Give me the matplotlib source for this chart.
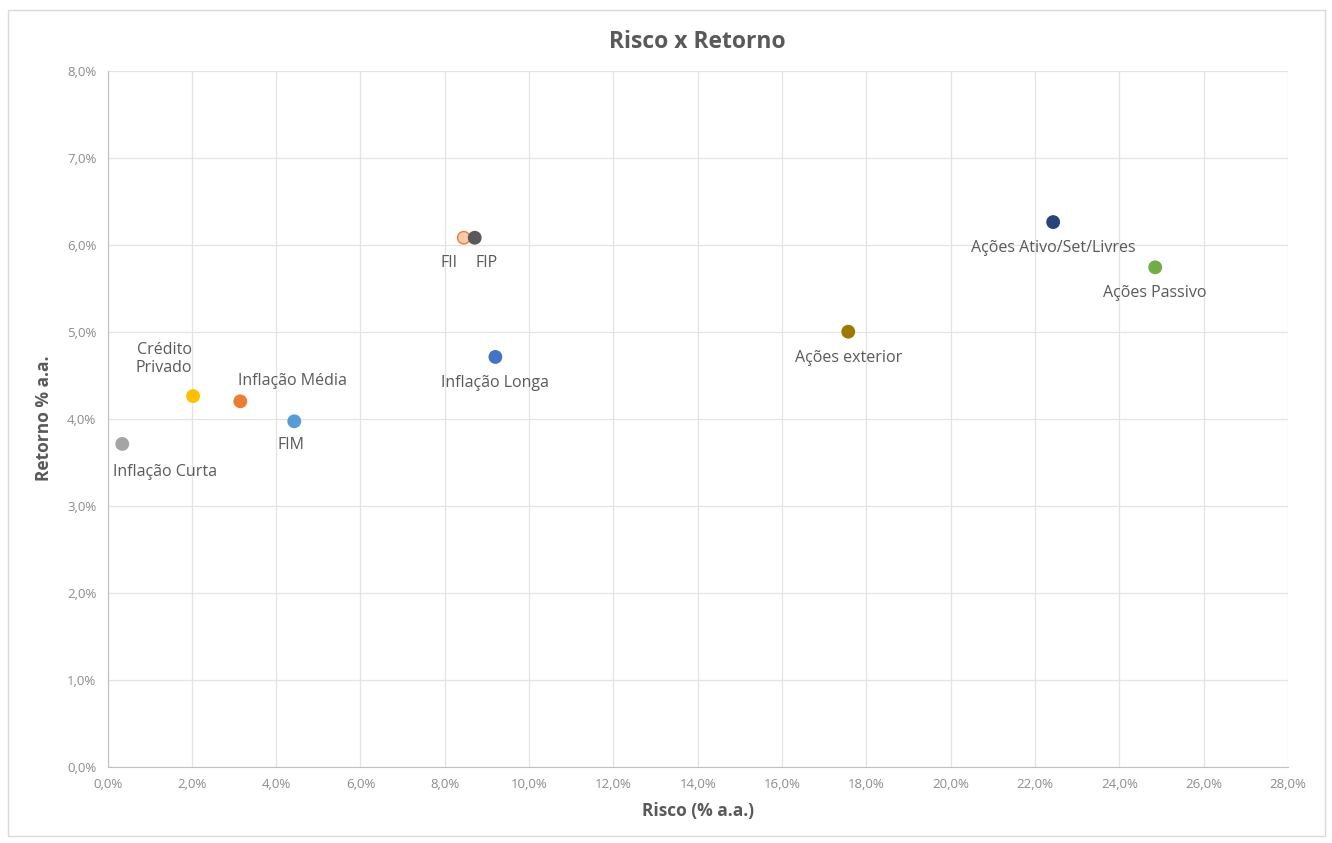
import matplotlib
matplotlib.use("Agg")
import matplotlib.pyplot as plt
from matplotlib.ticker import FuncFormatter
from matplotlib.patches import Rectangle

# ---- data ----
names = ["Inflação Curta", "Crédito\nPrivado", "Inflação Média", "FIM", "FII", "FIP",
         "Inflação Longa", "Ações exterior", "Ações Ativo/Set/Livres", "Ações Passivo"]
risco = [0.35, 2.03, 3.15, 4.43, 8.45, 8.71, 9.20, 17.57, 22.43, 24.85]
retorno = [3.71, 4.26, 4.20, 3.97, 6.08, 6.08, 4.71, 5.00, 6.26, 5.74]
colors = ["#A5A5A5", "#FFC000", "#ED7D31", "#5B9BD5", "#F8CBAD", "#595959",
          "#4472C4", "#9C7A00", "#264478", "#70AD47"]
edges = ["#A5A5A5", "#FFC000", "#ED7D31", "#5B9BD5", "#ED7D31", "#595959",
         "#4472C4", "#9C7A00", "#264478", "#70AD47"]
# label offsets in pixels (dx, dy) and alignment
offsets = [(43, -28, "center"), (-29, 37, "center"), (-2, 20, "left"), (-3, -24, "center"),
           (-15, -25, "center"), (12, -25, "center"), (0, -26, "center"), (0, -26, "center"),
           (0, -26, "center"), (0, -26, "center")]

xticks = list(range(0, 29, 2))
yticks = list(range(0, 9, 1))

plt.rcParams['font.family'] = ['Open Sans', 'DejaVu Sans']

W, H = 1332, 843
fig = plt.figure(figsize=(W / 100, H / 100), dpi=100)
ax = fig.add_axes([107.5 / W, 1 - 766.7 / H, (1288 - 107.5) / W, (766.7 - 70.7) / H])

# outer border
fig.patches.append(Rectangle((8 / W, 1 - 836 / H), (1325 - 8) / W, (836 - 10) / H,
                             transform=fig.transFigure, fill=False, edgecolor="#D9D9D9", lw=1))

ax.set_xlim(0, 28)
ax.set_ylim(0, 8)
fmt = FuncFormatter(lambda v, p: f"{v:.1f}%".replace(".", ","))
ax.xaxis.set_major_formatter(fmt)
ax.yaxis.set_major_formatter(fmt)
ax.set_xticks(xticks)
ax.set_yticks(yticks)
ax.grid(True, color="#E3E3E3", lw=0.9)
ax.set_axisbelow(True)
for s in ["top", "right"]:
    ax.spines[s].set_visible(False)
ax.spines["left"].set_color("#BFBFBF")
ax.spines["bottom"].set_color("#BFBFBF")
ax.tick_params(length=0, labelsize=9.5, labelcolor="#8C8C8C", pad=8)

ax.scatter(risco, retorno, s=80, c=colors, edgecolors=edges, linewidths=1, zorder=3)

for n, x, y, (dx, dy, ha) in zip(names, risco, retorno, offsets):
    ax.annotate(n, (x, y), xytext=(dx * 0.72, dy * 0.72), textcoords="offset points",
                ha=ha, va="center", fontsize=11.5, color="#595959", linespacing=1.15, zorder=4)

ax.set_title("Risco x Retorno", fontsize=16.5, fontweight="bold", color="#595959", pad=16)
ax.set_xlabel("Risco (% a.a.)", fontsize=12.5, fontweight="bold", color="#595959", labelpad=8)
ax.set_ylabel("Retorno % a.a.", fontsize=12.5, fontweight="bold", color="#595959", labelpad=10)

fig.savefig("out.png", dpi=100)
